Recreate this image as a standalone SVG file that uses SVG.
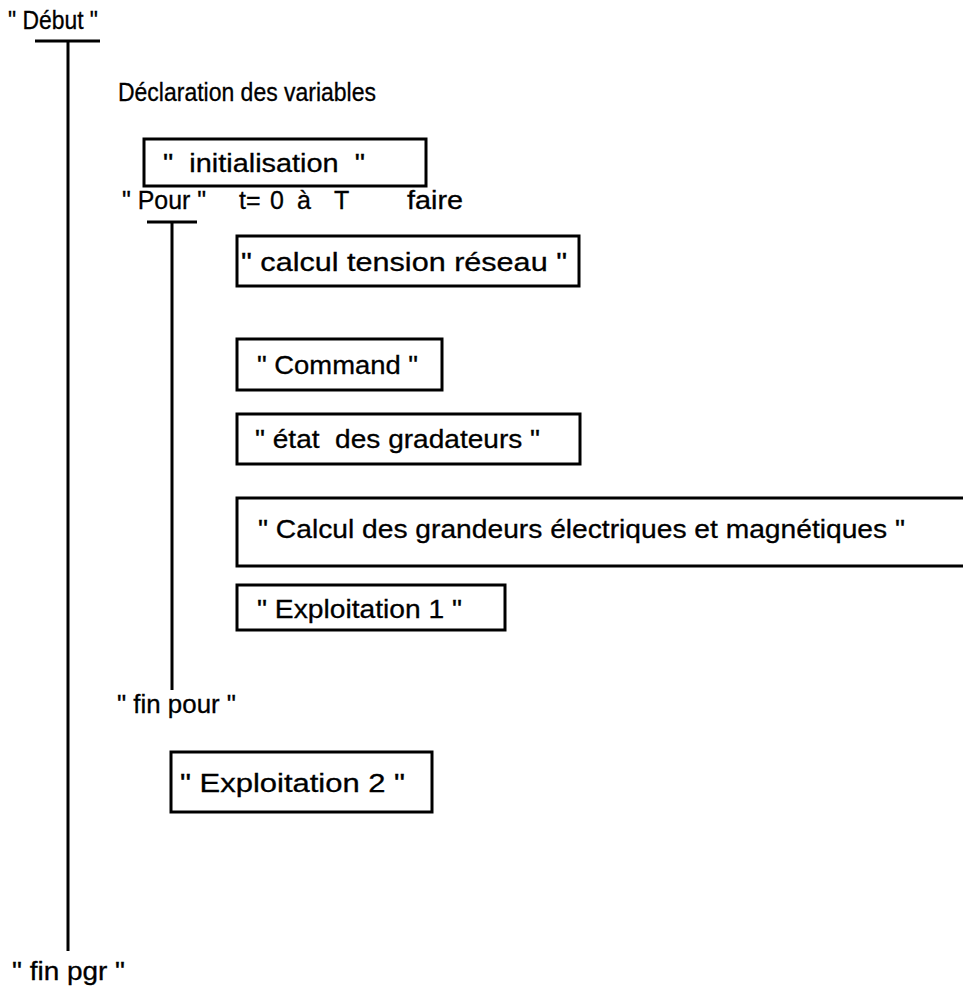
<svg xmlns="http://www.w3.org/2000/svg" width="963" height="994" viewBox="0 0 963 994">
<style>
text{font-family:"Liberation Sans",Arial,Helvetica,sans-serif;font-size:25px;fill:#000;stroke:#000;stroke-width:0.3;white-space:pre}
.b{font-size:26px}
.box{fill:none;stroke:#000;stroke-width:3}
.ln{stroke:#000;stroke-width:3;fill:none}
</style>
<rect width="963" height="994" fill="#fff"/>
<g id="connectors">
<line class="ln" x1="35" y1="41" x2="100" y2="41"/>
<line class="ln" x1="68" y1="41" x2="68" y2="951"/>
<line class="ln" x1="147" y1="222" x2="197" y2="222"/>
<line class="ln" x1="172" y1="222" x2="172" y2="690"/>
</g>
<g id="debut"><text x="8" y="29" xml:space="preserve" textLength="90" lengthAdjust="spacingAndGlyphs">" Début "</text></g>
<g id="declaration"><text x="118" y="101" textLength="258" lengthAdjust="spacingAndGlyphs">Déclaration des variables</text></g>
<g id="initialisation"><rect class="box" x="144" y="139" width="282" height="47"/><text class="b" x="163" y="172" xml:space="preserve" textLength="202" lengthAdjust="spacingAndGlyphs">"  initialisation  "</text></g>
<g id="pour"><text x="122" y="209" xml:space="preserve" textLength="84" lengthAdjust="spacingAndGlyphs">" Pour "</text><text x="239" y="209">t=</text><text x="270" y="209">0</text><text x="297" y="209">à</text><text x="334" y="209">T</text><text x="407" y="209" textLength="56" lengthAdjust="spacingAndGlyphs">faire</text></g>
<g id="calcul-tension"><rect class="box" x="237" y="236" width="342" height="50"/><text class="b" x="241" y="271" xml:space="preserve" textLength="326" lengthAdjust="spacingAndGlyphs">" calcul tension réseau "</text></g>
<g id="command"><rect class="box" x="237" y="339" width="205" height="51"/><text class="b" x="257" y="374" xml:space="preserve" textLength="161" lengthAdjust="spacingAndGlyphs">" Command "</text></g>
<g id="etat"><rect class="box" x="237" y="414" width="343" height="50"/><text class="b" x="255" y="448" xml:space="preserve" textLength="285" lengthAdjust="spacingAndGlyphs">" état  des gradateurs "</text></g>
<g id="calcul-grandeurs"><path class="box" d="M966 498 H237 V566 H966"/><text class="b" x="258" y="538" xml:space="preserve" textLength="647" lengthAdjust="spacingAndGlyphs">" Calcul des grandeurs électriques et magnétiques "</text></g>
<g id="exploitation1"><rect class="box" x="237" y="585" width="268" height="45"/><text class="b" x="257" y="618" xml:space="preserve" textLength="205" lengthAdjust="spacingAndGlyphs">" Exploitation 1 "</text></g>
<g id="finpour"><text x="117" y="713" xml:space="preserve" textLength="119" lengthAdjust="spacingAndGlyphs">" fin pour "</text></g>
<g id="exploitation2"><rect class="box" x="171" y="752" width="261" height="60"/><text class="b" x="180" y="792" xml:space="preserve" textLength="225" lengthAdjust="spacingAndGlyphs">" Exploitation 2 "</text></g>
<g id="finpgr"><text x="12" y="980" xml:space="preserve" textLength="113" lengthAdjust="spacingAndGlyphs">" fin pgr "</text></g>
</svg>
